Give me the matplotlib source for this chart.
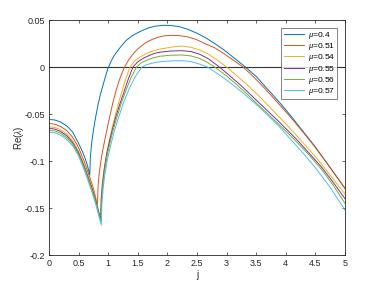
import matplotlib
matplotlib.use("Agg")
import matplotlib.pyplot as plt

mu_labels = ["0.4", "0.51", "0.54", "0.55", "0.56", "0.57"]
colors = ["#0072BD", "#D95319", "#EDB120", "#7E2F8E", "#77AC30", "#4DBEEE"]

j_04 = [0, 0.1, 0.2, 0.3, 0.4, 0.5, 0.55, 0.6, 0.65, 0.69,
        0.70, 0.72, 0.75, 0.79, 0.83, 0.87, 0.92, 0.96, 1.0, 1.05, 1.1, 1.2, 1.3, 1.4, 1.5, 1.6, 1.7, 1.8,
        1.93, 2.05, 2.2, 2.35, 2.5, 2.65, 2.8, 2.95, 3.1, 3.19, 3.32, 3.5, 3.7, 3.9, 4.1, 4.3, 4.5, 4.75, 5.0]
v_04 = [-0.0557, -0.0563, -0.0585, -0.0625, -0.069, -0.081, -0.0875, -0.095, -0.1045, -0.115,
        -0.096, -0.082, -0.068, -0.053, -0.040, -0.029, -0.018, -0.009, -0.001, 0.006, 0.012, 0.0205, 0.028,
        0.033, 0.0365, 0.0395, 0.042, 0.0435, 0.0444, 0.0442, 0.043, 0.040, 0.036, 0.031, 0.025, 0.0185,
        0.011, 0.0065, 0.0, -0.010, -0.024, -0.038, -0.053, -0.069, -0.085, -0.107, -0.129]

j_051 = [0, 0.1, 0.2, 0.3, 0.4, 0.5, 0.6, 0.7, 0.76, 0.82,
         0.83, 0.85, 0.88, 0.92, 0.975, 1.03, 1.08, 1.14, 1.2, 1.27, 1.35, 1.45, 1.55, 1.65, 1.75, 1.85, 1.95,
         2.07, 2.2, 2.35, 2.5, 2.65, 2.8, 2.95, 3.1, 3.2, 3.28, 3.45, 3.65, 3.85, 4.05, 4.25, 4.45, 4.7, 5.0]
v_051 = [-0.060, -0.0608, -0.0633, -0.0675, -0.0745, -0.0855, -0.101, -0.119, -0.131, -0.147,
         -0.127, -0.113, -0.099, -0.085, -0.068, -0.052, -0.038, -0.024, -0.012, -0.001, 0.008, 0.016, 0.022,
         0.0265, 0.0295, 0.0318, 0.0332, 0.0337, 0.0334, 0.032, 0.029, 0.0245, 0.0205, 0.0145, 0.008, 0.0035,
         0.0, -0.010, -0.023, -0.037, -0.051, -0.066, -0.0815, -0.1025, -0.129]

j_054 = [0, 0.1, 0.2, 0.3, 0.4, 0.5, 0.6, 0.7, 0.78, 0.87,
         0.88, 0.9, 0.93, 0.97, 1.02, 1.07, 1.13, 1.2, 1.28, 1.37, 1.45, 1.55, 1.65, 1.75, 1.85, 1.96, 2.1,
         2.24, 2.4, 2.55, 2.7, 2.85, 3.0, 3.15, 3.35, 3.55, 3.75, 3.95, 4.15, 4.35, 4.55, 4.75, 5.0]
v_054 = [-0.0635, -0.0643, -0.0668, -0.0712, -0.0785, -0.0895, -0.105, -0.1225, -0.138, -0.160,
         -0.140, -0.124, -0.109, -0.094, -0.078, -0.064, -0.049, -0.033, -0.016, 0.0, 0.0065, 0.011, 0.0145,
         0.017, 0.0188, 0.020, 0.0215, 0.0223, 0.021, 0.018, 0.0135, 0.007, 0.0, -0.008, -0.019, -0.031,
         -0.044, -0.057, -0.0705, -0.0845, -0.099, -0.115, -0.135]

j_055 = [0, 0.1, 0.2, 0.3, 0.4, 0.5, 0.6, 0.7, 0.78, 0.875,
         0.885, 0.905, 0.935, 0.975, 1.02, 1.07, 1.13, 1.2, 1.27, 1.34, 1.42, 1.5, 1.6, 1.7, 1.8, 1.9, 2.05,
         2.24, 2.4, 2.55, 2.7, 2.88, 3.05, 3.25, 3.45, 3.65, 3.85, 4.05, 4.2, 4.4, 4.6, 4.8, 5.0]
v_055 = [-0.0652, -0.066, -0.0686, -0.073, -0.0802, -0.091, -0.1065, -0.124, -0.1395, -0.163,
         -0.141, -0.125, -0.109, -0.093, -0.080, -0.067, -0.053, -0.039, -0.026, -0.013, 0.0, 0.0055, 0.0095,
         0.0125, 0.0148, 0.016, 0.017, 0.0174, 0.0165, 0.0135, 0.0085, 0.0, -0.009, -0.020, -0.032, -0.044,
         -0.056, -0.0685, -0.078, -0.092, -0.106, -0.1225, -0.140]

j_056 = [0, 0.1, 0.2, 0.3, 0.4, 0.5, 0.6, 0.7, 0.78, 0.88,
         0.89, 0.91, 0.94, 0.98, 1.03, 1.08, 1.15, 1.22, 1.3, 1.39, 1.48, 1.56, 1.66, 1.76, 1.88, 2.05, 2.25,
         2.4, 2.55, 2.68, 2.8, 2.95, 3.15, 3.35, 3.55, 3.75, 3.95, 4.16, 4.4, 4.6, 4.8, 5.0]
v_056 = [-0.0674, -0.068, -0.0705, -0.075, -0.0818, -0.0925, -0.108, -0.1255, -0.141, -0.165,
         -0.143, -0.127, -0.111, -0.095, -0.081, -0.068, -0.053, -0.039, -0.025, -0.011, 0.0, 0.0045, 0.0075,
         0.0098, 0.0115, 0.0125, 0.0128, 0.0118, 0.009, 0.0048, 0.0, -0.007, -0.0175, -0.029, -0.041, -0.053,
         -0.065, -0.078, -0.094, -0.1085, -0.1255, -0.145]

j_057 = [0, 0.1, 0.2, 0.3, 0.4, 0.5, 0.6, 0.7, 0.78, 0.885,
         0.895, 0.915, 0.945, 0.99, 1.04, 1.11, 1.18, 1.26, 1.35, 1.46, 1.57, 1.65, 1.75, 1.87, 2.0, 2.15,
         2.3, 2.42, 2.55, 2.68, 2.8, 2.95, 3.15, 3.35, 3.55, 3.75, 3.9, 4.07, 4.3, 4.5, 4.75, 5.0]
v_057 = [-0.0695, -0.070, -0.0725, -0.077, -0.0835, -0.0945, -0.110, -0.128, -0.1435, -0.168,
         -0.146, -0.130, -0.114, -0.098, -0.084, -0.067, -0.053, -0.038, -0.024, -0.010, 0.0, 0.0025, 0.0042,
         0.0055, 0.0063, 0.0067, 0.0066, 0.0055, 0.003, 0.0, -0.005, -0.0115, -0.021, -0.0315, -0.0425,
         -0.0545, -0.064, -0.076, -0.092, -0.107, -0.128, -0.152]

series_j = [j_04, j_051, j_054, j_055, j_056, j_057]
series_v = [v_04, v_051, v_054, v_055, v_056, v_057]

x_ticks = [0, 0.5, 1, 1.5, 2, 2.5, 3, 3.5, 4, 4.5, 5]
x_tick_labels = ["0", "0.5", "1", "1.5", "2", "2.5", "3", "3.5", "4", "4.5", "5"]
y_ticks = [-0.2, -0.15, -0.1, -0.05, 0, 0.05]
y_tick_labels = ["-0.2", "-0.15", "-0.1", "-0.05", "0", "0.05"]

plt.rcParams['font.family'] = ['Liberation Sans', 'DejaVu Sans']
plt.rcParams['mathtext.fontset'] = 'custom'
plt.rcParams['mathtext.it'] = 'Liberation Serif:italic'
plt.rcParams['mathtext.rm'] = 'Liberation Sans'

fig = plt.figure(figsize=(3.82, 2.86), dpi=100)
ax = fig.add_axes([0.128, 0.108, 0.775, 0.822])

ax.axhline(0, color="#333333", lw=0.8, zorder=1)
for jj, vv, c, lab in zip(series_j, series_v, colors, mu_labels):
    ax.plot(jj, vv, color=c, lw=0.7, label=r"$\mu$=" + lab, zorder=2)

ax.set_xlim(0, 5)
ax.set_ylim(-0.2, 0.05)
ax.set_xticks(x_ticks)
ax.set_xticklabels(x_tick_labels)
ax.set_yticks(y_ticks)
ax.set_yticklabels(y_tick_labels)
ax.tick_params(direction="in", length=2.5, width=0.5, labelsize=6.5, colors="#262626",
               top=True, right=True, pad=3)
for s in ax.spines.values():
    s.set_linewidth(0.6)
    s.set_color("#262626")
ax.set_xlabel("j", fontsize=7, color="#262626", labelpad=1)
ax.set_ylabel(r"Re($\lambda$)", fontsize=7, color="#262626", labelpad=-1)

leg = ax.legend(loc="upper right", fontsize=6, frameon=True, fancybox=False,
                edgecolor="#262626", handlelength=2.5, handletextpad=0.4,
                borderaxespad=0.9, labelspacing=0.02, borderpad=0.3)
leg.get_frame().set_linewidth(0.5)

fig.savefig("out.png", dpi=100)
